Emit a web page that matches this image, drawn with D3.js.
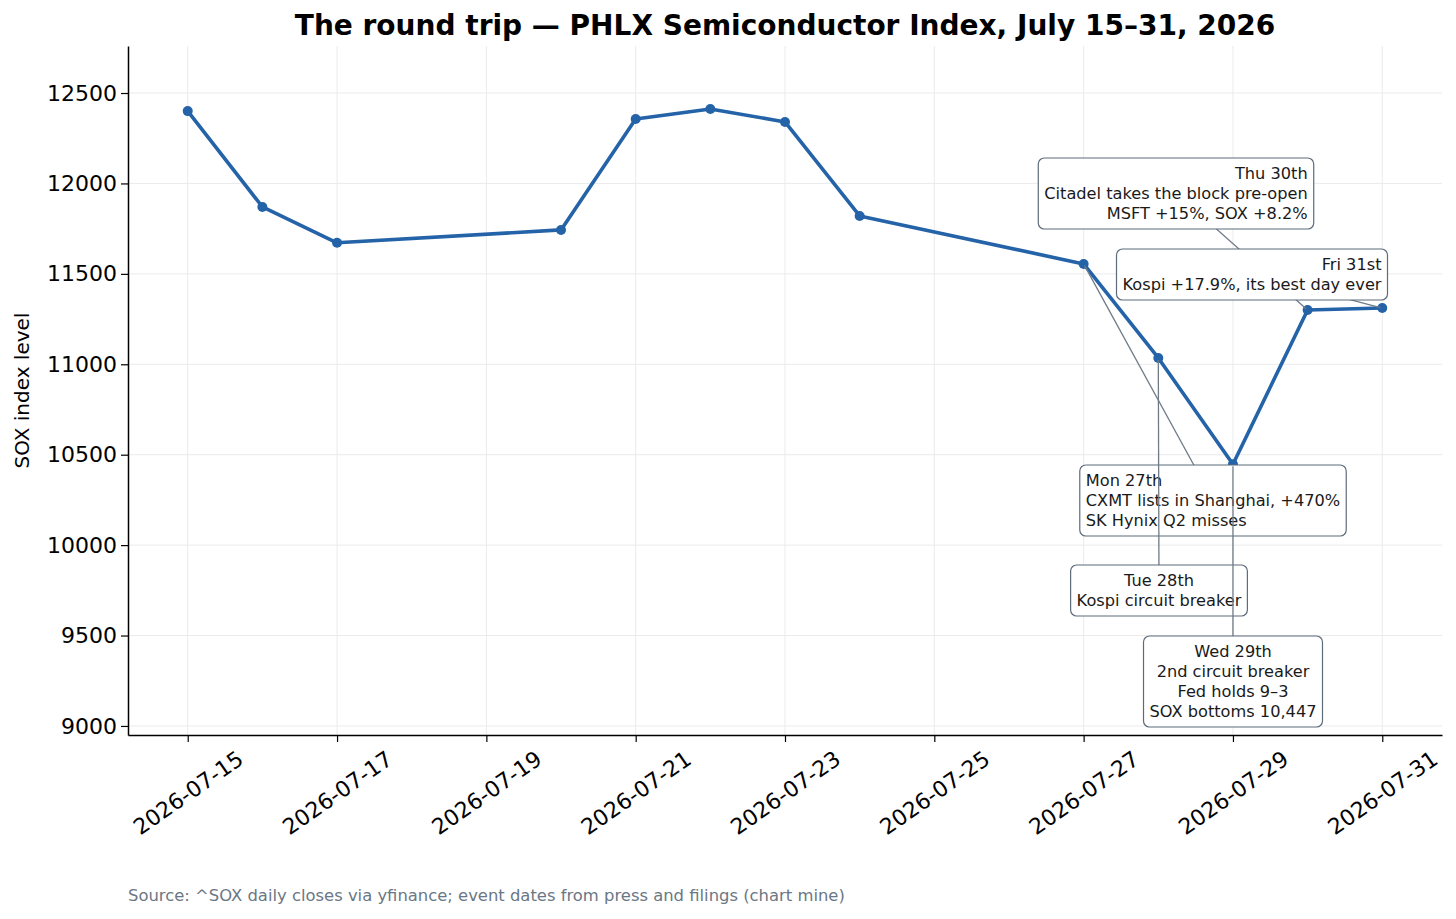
<!DOCTYPE html>
<html lang="en">
<head>
    <meta charset="UTF-8">
    <title>The round trip — SOX</title>
    <style>
        body {
            background-color: #ffffff;
            margin: 0;
            overflow: hidden;
            font-family: "DejaVu Sans", sans-serif;
        }
        svg {
            display: block;
        }
        .grid line {
            stroke: #ebebeb;
            stroke-width: 1;
        }
        .note-box {
            fill: #ffffff;
            stroke: #5d6b7b;
            stroke-width: 1.2;
        }
        .note-text {
            font-size: 16.2px;
            fill: #1a1a1a;
        }
    </style>
</head>
<body>
    <svg id="chart"></svg>

    <script src="https://d3js.org/d3.v7.min.js"></script>
    <script>
        // SOX daily closes (trading days only)
        const dates = ["2026-07-15", "2026-07-16", "2026-07-17", "2026-07-20", "2026-07-21",
                       "2026-07-22", "2026-07-23", "2026-07-24", "2026-07-27", "2026-07-28",
                       "2026-07-29", "2026-07-30", "2026-07-31"];
        const closes = [12400, 11870, 11672, 11743, 12356, 12412, 12340, 11820, 11555, 11035,
                        10447, 11300, 11311];

        const yTicks = [9000, 9500, 10000, 10500, 11000, 11500, 12000, 12500];
        const xTickDates = ["2026-07-15", "2026-07-17", "2026-07-19", "2026-07-21", "2026-07-23",
                            "2026-07-25", "2026-07-27", "2026-07-29", "2026-07-31"];

        // event notes: which close they point at and their text
        const noteDates = ["2026-07-27", "2026-07-28", "2026-07-29", "2026-07-30", "2026-07-31"];
        const noteLines = [
            ["Mon 27th", "CXMT lists in Shanghai, +470%", "SK Hynix Q2 misses"],
            ["Tue 28th", "Kospi circuit breaker"],
            ["Wed 29th", "2nd circuit breaker", "Fed holds 9\u20133", "SOX bottoms 10,447"],
            ["Thu 30th", "Citadel takes the block pre-open", "MSFT +15%, SOX +8.2%"],
            ["Fri 31st", "Kospi +17.9%, its best day ever"]
        ];

        // where each note box sits (box centre in px) and how its lines align
        const notePlacement = [
            { cx: 1213, cy: 500, align: "left" },
            { cx: 1159, cy: 590, align: "center" },
            { cx: 1233, cy: 681, align: "center" },
            { cx: 1176, cy: 193, align: "right" },
            { cx: 1252, cy: 274, align: "right" }
        ];

        const W = 1456, H = 919;
        const plot = { left: 128, right: 1442, top: 46, bottom: 735 };
        const day = 24 * 3600 * 1000;
        const parse = d3.utcParse("%Y-%m-%d");

        const svg = d3.select("#chart").attr("width", W).attr("height", H);

        const series = dates.map((d, i) => ({ date: parse(d), value: closes[i] }));

        const x = d3.scaleUtc()
            .domain([new Date(+parse("2026-07-15") - 0.8 * day), new Date(+parse("2026-07-31") + 0.8 * day)])
            .range([plot.left, plot.right]);

        const y = d3.scaleLinear()
            .domain([8950, 12760])
            .range([plot.bottom, plot.top]);

        // Grid lines
        const grid = svg.append("g").attr("class", "grid");
        grid.selectAll(".gx")
            .data(xTickDates.map(parse))
            .join("line")
            .attr("x1", d => x(d)).attr("x2", d => x(d))
            .attr("y1", plot.top).attr("y2", plot.bottom);
        grid.selectAll(".gy")
            .data(yTicks)
            .join("line")
            .attr("x1", plot.left).attr("x2", plot.right)
            .attr("y1", d => y(d)).attr("y2", d => y(d));

        // Y axis
        const yAxis = svg.append("g")
            .attr("transform", `translate(${plot.left},0)`)
            .call(d3.axisLeft(y).tickValues(yTicks).tickSizeInner(7).tickSizeOuter(0)
                .tickPadding(4).tickFormat(d3.format("d")));
        yAxis.select(".domain").attr("stroke", "#000").attr("stroke-width", 1.5);
        yAxis.selectAll(".tick line").attr("stroke", "#000").attr("stroke-width", 1.2);
        yAxis.selectAll(".tick text")
            .attr("font-family", "DejaVu Sans")
            .attr("font-size", 22)
            .attr("fill", "#000");

        // X axis
        const xAxis = svg.append("g")
            .attr("transform", `translate(0,${plot.bottom})`)
            .call(d3.axisBottom(x).tickValues(xTickDates.map(parse)).tickSizeInner(7).tickSizeOuter(0)
                .tickFormat(d3.utcFormat("%Y-%m-%d")));
        xAxis.select(".domain").attr("stroke", "#000").attr("stroke-width", 1.5);
        xAxis.selectAll(".tick line").attr("stroke", "#000").attr("stroke-width", 1.2);
        xAxis.selectAll(".tick text")
            .attr("font-family", "DejaVu Sans")
            .attr("font-size", 22)
            .attr("fill", "#000")
            .attr("y", 0)
            .attr("dy", null)
            .attr("text-anchor", "middle")
            .attr("dominant-baseline", "central")
            .attr("transform", "translate(0,58) rotate(-35)");

        // Line
        const line = d3.line()
            .x(d => x(d.date))
            .y(d => y(d.value));

        svg.append("path")
            .datum(series)
            .attr("fill", "none")
            .attr("stroke", "#2563a8")
            .attr("stroke-width", 3.6)
            .attr("stroke-linejoin", "round")
            .attr("d", line);

        svg.selectAll(".pt")
            .data(series)
            .join("circle")
            .attr("cx", d => x(d.date))
            .attr("cy", d => y(d.value))
            .attr("r", 5)
            .attr("fill", "#2563a8");

        // Notes: connector line, then box, in order
        const byDate = new Map(series.map(d => [d3.utcFormat("%Y-%m-%d")(d.date), d]));
        noteDates.forEach((nd, i) => {
            const p = byDate.get(nd);
            const pl = notePlacement[i];
            const lines = noteLines[i];
            const px = x(p.date), py = y(p.value);

            // shrink 2px from the point
            const dx = pl.cx - px, dy = pl.cy - py, len = Math.hypot(dx, dy);
            svg.append("line")
                .attr("x1", px + dx / len * 2).attr("y1", py + dy / len * 2)
                .attr("x2", pl.cx).attr("y2", pl.cy)
                .attr("stroke", "#6f7b88")
                .attr("stroke-width", 1.3);

            const g = svg.append("g");
            const box = g.append("rect").attr("class", "note-box").attr("rx", 6).attr("ry", 6);
            const lh = 20;
            const texts = g.selectAll("text")
                .data(lines)
                .join("text")
                .attr("class", "note-text")
                .attr("dominant-baseline", "central")
                .attr("y", (d, j) => pl.cy + (j - (lines.length - 1) / 2) * lh)
                .text(d => d);

            const widths = texts.nodes().map(n => n.getComputedTextLength());
            const w = d3.max(widths);
            const anchor = { left: "start", center: "middle", right: "end" }[pl.align];
            const tx = pl.align === "left" ? pl.cx - w / 2 : pl.align === "right" ? pl.cx + w / 2 : pl.cx;
            texts.attr("x", tx).attr("text-anchor", anchor);

            const padX = 6, padY = 6;
            const h = lines.length * lh;
            box.attr("x", pl.cx - w / 2 - padX)
                .attr("y", pl.cy - h / 2 - padY + 1)
                .attr("width", w + 2 * padX)
                .attr("height", h + 2 * padY - 1);
        });

        // Title
        svg.append("text")
            .attr("x", (plot.left + plot.right) / 2)
            .attr("y", 35)
            .attr("text-anchor", "middle")
            .attr("font-family", "DejaVu Sans")
            .attr("font-weight", "bold")
            .attr("font-size", 28)
            .attr("fill", "#000")
            .text("The round trip \u2014 PHLX Semiconductor Index, July 15\u201331, 2026");

        // Y-axis label
        svg.append("text")
            .attr("transform", `translate(22,${(plot.top + plot.bottom) / 2}) rotate(-90)`)
            .attr("text-anchor", "middle")
            .attr("dominant-baseline", "central")
            .attr("font-family", "DejaVu Sans")
            .attr("font-size", 20)
            .attr("fill", "#000")
            .text("SOX index level");

        // Footnote
        svg.append("text")
            .attr("x", plot.left)
            .attr("y", 901)
            .attr("font-family", "DejaVu Sans")
            .attr("font-size", 16.4)
            .attr("fill", "#6b7785")
            .text("Source: ^SOX daily closes via yfinance; event dates from press and filings (chart mine)");
    </script>
</body>
</html>
